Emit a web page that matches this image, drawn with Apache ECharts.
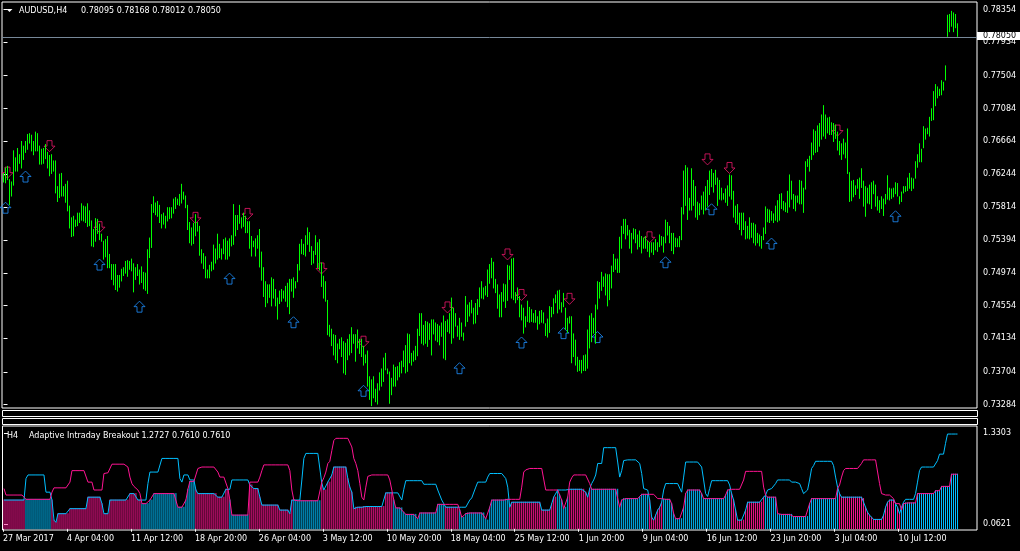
<!DOCTYPE html>
<html><head><meta charset="utf-8">
<script src="https://cdn.jsdelivr.net/npm/echarts@6/dist/echarts.min.js"></script>
<style>html,body{margin:0;padding:0;background:#000;}#c{width:1020px;height:551px;}</style>
</head><body><div id="c"></div>
<script>
// ---- data (AUDUSD H4) ----
const high = [.7625,.7632,.7634,.7617,.7614,.7654,.7645,.7657,.7649,.7666,
.7660,.7666,.7675,.7676,.7674,.7666,.7678,.7676,.7660,.7656,
.7657,.7662,.7652,.7648,.7649,.7641,.7641,.7608,.7624,.7625,
.7608,.7611,.7615,.7583,.7568,.7570,.7565,.7574,.7574,.7586,
.7583,.7582,.7586,.7577,.7564,.7553,.7567,.7566,.7560,.7547,
.7538,.7540,.7544,.7521,.7508,.7508,.7508,.7494,.7494,.7502,
.7504,.7512,.7513,.7512,.7515,.7509,.7504,.7508,.7501,.7505,
.7498,.7497,.7527,.7542,.7585,.7595,.7587,.7589,.7584,.7572,
.7574,.7570,.7581,.7581,.7581,.7592,.7594,.7592,.7598,.7611,
.7601,.7596,.7584,.7562,.7555,.7561,.7572,.7562,.7557,.7527,
.7522,.7518,.7501,.7507,.7511,.7533,.7528,.7547,.7534,.7528,
.7540,.7542,.7538,.7541,.7545,.7585,.7571,.7571,.7584,.7568,
.7574,.7570,.7563,.7563,.7544,.7538,.7541,.7545,.7553,.7524,
.7504,.7486,.7482,.7482,.7491,.7489,.7476,.7465,.7474,.7476,
.7474,.7480,.7484,.7489,.7489,.7491,.7486,.7508,.7534,.7540,
.7534,.7545,.7555,.7549,.7531,.7525,.7545,.7536,.7540,.7510,
.7493,.7486,.7462,.7430,.7425,.7418,.7417,.7406,.7412,.7414,
.7409,.7407,.7412,.7418,.7427,.7418,.7418,.7424,.7412,.7412,
.7403,.7392,.7397,.7364,.7360,.7364,.7348,.7355,.7369,.7374,
.7388,.7394,.7374,.7370,.7362,.7379,.7376,.7377,.7382,.7384,
.7397,.7404,.7419,.7418,.7394,.7397,.7403,.7425,.7445,.7445,
.7430,.7435,.7434,.7432,.7437,.7437,.7433,.7431,.7429,.7433,
.7442,.7435,.7437,.7445,.7465,.7452,.7445,.7429,.7439,.7433,
.7420,.7467,.7456,.7459,.7462,.7452,.7458,.7463,.7478,.7486,
.7478,.7480,.7501,.7508,.7516,.7511,.7489,.7482,.7469,.7472,
.7483,.7482,.7507,.7506,.7515,.7516,.7472,.7478,.7467,.7456,
.7452,.7441,.7461,.7453,.7450,.7445,.7449,.7441,.7448,.7449,
.7446,.7432,.7438,.7454,.7453,.7464,.7469,.7474,.7475,.7459,
.7471,.7452,.7439,.7441,.7441,.7419,.7411,.7389,.7385,.7385,
.7391,.7392,.7424,.7442,.7445,.7439,.7456,.7486,.7485,.7498,
.7492,.7496,.7495,.7495,.7506,.7521,.7515,.7515,.7543,.7557,
.7566,.7566,.7558,.7552,.7548,.7554,.7553,.7546,.7551,.7544,
.7542,.7544,.7538,.7536,.7536,.7536,.7540,.7536,.7546,.7544,
.7543,.7565,.7562,.7557,.7548,.7548,.7542,.7541,.7544,.7581,
.7628,.7635,.7632,.7593,.7631,.7616,.7608,.7588,.7586,.7596,
.7601,.7608,.7616,.7628,.7630,.7625,.7629,.7619,.7616,.7606,
.7599,.7605,.7609,.7623,.7622,.7602,.7583,.7585,.7574,.7574,
.7574,.7563,.7557,.7568,.7561,.7561,.7559,.7548,.7546,.7544,
.7555,.7582,.7579,.7578,.7576,.7573,.7583,.7590,.7598,.7599,
.7589,.7587,.7602,.7623,.7615,.7598,.7596,.7596,.7616,.7615,
.7606,.7640,.7643,.7647,.7664,.7681,.7679,.7686,.7689,.7700,
.7712,.7700,.7696,.7697,.7690,.7689,.7687,.7678,.7666,.7663,
.7669,.7664,.7682,.7626,.7615,.7616,.7609,.7617,.7619,.7631,
.7615,.7608,.7606,.7610,.7613,.7615,.7610,.7595,.7590,.7595,
.7592,.7598,.7622,.7606,.7605,.7606,.7613,.7612,.7595,.7601,
.7608,.7608,.7619,.7625,.7619,.7618,.7640,.7649,.7663,.7656,
.7685,.7682,.7683,.7697,.7708,.7730,.7739,.7736,.7733,.7744,
.7742,.7763,.7828,.7829,.7833,.7831,.7829,.7817];
const low = [.7614,.7613,.7617,.7585,.7596,.7610,.7628,.7628,.7638,.7632,
.7643,.7652,.7656,.7664,.7654,.7649,.7654,.7654,.7637,.7637,
.7638,.7644,.7632,.7622,.7625,.7628,.7600,.7589,.7594,.7596,
.7596,.7588,.7577,.7555,.7544,.7545,.7557,.7558,.7562,.7565,
.7564,.7562,.7557,.7558,.7532,.7531,.7538,.7548,.7540,.7538,
.7515,.7518,.7504,.7504,.7489,.7482,.7476,.7474,.7479,.7487,
.7494,.7497,.7493,.7502,.7500,.7473,.7489,.7494,.7483,.7485,
.7477,.7475,.7471,.7517,.7530,.7575,.7572,.7570,.7562,.7555,
.7560,.7555,.7564,.7567,.7568,.7574,.7580,.7585,.7584,.7587,
.7592,.7581,.7553,.7536,.7533,.7535,.7545,.7551,.7520,.7510,
.7503,.7491,.7491,.7491,.7500,.7502,.7510,.7515,.7517,.7515,
.7522,.7515,.7515,.7519,.7532,.7534,.7545,.7553,.7561,.7555,
.7557,.7549,.7549,.7529,.7519,.7531,.7519,.7529,.7505,.7488,
.7467,.7454,.7459,.7466,.7455,.7465,.7455,.7438,.7458,.7461,
.7465,.7461,.7454,.7445,.7474,.7466,.7478,.7486,.7501,.7522,
.7521,.7519,.7534,.7525,.7508,.7510,.7521,.7504,.7501,.7480,
.7465,.7461,.7418,.7416,.7404,.7392,.7386,.7382,.7400,.7390,
.7369,.7367,.7386,.7392,.7395,.7407,.7384,.7401,.7394,.7390,
.7379,.7382,.7352,.7335,.7327,.7337,.7332,.7329,.7347,.7352,
.7358,.7373,.7368,.7330,.7341,.7352,.7352,.7360,.7364,.7369,
.7377,.7369,.7371,.7382,.7379,.7384,.7386,.7391,.7417,.7407,
.7405,.7407,.7403,.7412,.7392,.7419,.7411,.7409,.7405,.7416,
.7388,.7386,.7422,.7420,.7407,.7414,.7429,.7416,.7412,.7416,
.7411,.7429,.7435,.7442,.7446,.7432,.7433,.7444,.7454,.7465,
.7464,.7469,.7467,.7484,.7491,.7478,.7472,.7452,.7441,.7441,
.7461,.7453,.7462,.7489,.7465,.7463,.7459,.7463,.7441,.7437,
.7420,.7428,.7435,.7434,.7435,.7434,.7434,.7425,.7432,.7434,
.7433,.7417,.7415,.7421,.7441,.7445,.7459,.7446,.7451,.7447,
.7454,.7425,.7421,.7433,.7382,.7390,.7379,.7371,.7372,.7369,
.7372,.7372,.7375,.7401,.7409,.7420,.7407,.7451,.7465,.7475,
.7480,.7469,.7455,.7463,.7478,.7499,.7502,.7498,.7498,.7529,
.7548,.7541,.7546,.7529,.7523,.7541,.7536,.7528,.7531,.7523,
.7529,.7529,.7525,.7518,.7524,.7521,.7527,.7525,.7531,.7533,
.7524,.7536,.7546,.7536,.7526,.7522,.7531,.7531,.7531,.7540,
.7573,.7584,.7566,.7578,.7578,.7584,.7569,.7566,.7572,.7579,
.7573,.7578,.7583,.7598,.7608,.7601,.7611,.7584,.7592,.7591,
.7592,.7588,.7584,.7596,.7592,.7569,.7562,.7560,.7553,.7546,
.7553,.7541,.7542,.7541,.7543,.7536,.7533,.7536,.7532,.7529,
.7540,.7548,.7563,.7562,.7565,.7562,.7565,.7563,.7565,.7580,
.7578,.7576,.7575,.7582,.7592,.7580,.7577,.7588,.7586,.7586,
.7575,.7605,.7634,.7628,.7643,.7649,.7652,.7653,.7660,.7669,
.7673,.7670,.7677,.7675,.7675,.7666,.7670,.7655,.7649,.7643,
.7650,.7645,.7625,.7589,.7590,.7595,.7598,.7606,.7593,.7607,
.7583,.7570,.7587,.7586,.7580,.7599,.7583,.7578,.7575,.7580,
.7571,.7586,.7592,.7591,.7593,.7595,.7599,.7596,.7586,.7589,
.7600,.7602,.7603,.7606,.7603,.7606,.7619,.7633,.7640,.7640,
.7658,.7669,.7676,.7673,.7693,.7694,.7712,.7722,.7725,.7726,
.7732,.7745,.7801,.7807,.7814,.7807,.7812,.7801];
const downArrows = [[2,.7626],[23,.7660],[48,.7556],[96,.7568],[122,.7573],[159,.7503],[180,.7409],[222,.7453],[252,.7521],[259,.7469],[283,.7464],[323,.7543],[352,.7643],[363,.7632],[417,.7680]];
const upArrows = [[1,.7581],[11,.7621],[48,.7508],[68,.7454],[113,.7490],[145,.7434],[180,.7346],[228,.7375],[259,.7408],[280,.7420],[297,.7415],[331,.7511],[354,.7579],[384,.7535],[446,.7570]];
const priceTicks = [0.78354,0.77934,0.77504,0.77084,0.76664,0.76244,0.75814,0.75394,0.74974,0.74554,0.74134,0.73704,0.73284];
const indTicks = [1.3303, 0.0621];
const timeLabels = ['27 Mar 2017','4 Apr 04:00','11 Apr 12:00','18 Apr 20:00','26 Apr 04:00','3 May 12:00','10 May 20:00','18 May 04:00','25 May 12:00','1 Jun 20:00','9 Jun 04:00','16 Jun 12:00','23 Jun 20:00','3 Jul 04:00','10 Jul 12:00'];
const lastOHLC = [0.78095, 0.78168, 0.78012, 0.78050];
const indValues = [1.2727, 0.7610, 0.7610];
// Adaptive Intraday Breakout: blue line, pink line, histogram (+ colour per bar)
const blueLine = [.40,.40,.40,.40,.40,.40,.40,.40,.40,.40,
.40,.70,.75,.75,.75,.75,.75,.75,.75,.75,
.75,.51,.51,.51,.40,.12,.09,.21,.21,.21,
.21,.21,.21,.28,.28,.28,.28,.28,.28,.28,
.28,.28,.44,.44,.44,.44,.44,.44,.44,.35,
.21,.21,.21,.40,.40,.40,.40,.40,.40,.40,
.40,.40,.40,.49,.49,.49,.49,.40,.40,.40,
.40,.40,.63,.79,.79,.79,.79,.79,.79,.98,
.98,.98,.98,.98,.98,.98,.98,.98,.70,.65,
.75,.75,.75,.68,.68,.68,.54,.49,.49,.49,
.49,.49,.49,.49,.49,.49,.49,.44,.44,.44,
.44,.55,.55,.55,.68,.68,.68,.68,.68,.68,
.68,.68,.68,.61,.61,.56,.56,.56,.44,.33,
.33,.33,.33,.33,.33,.33,.33,.33,.26,.26,
.26,.26,.26,.21,.40,.40,.40,.40,.40,.68,
.98,1.05,1.05,1.05,1.05,1.05,1.05,1.05,1.05,.63,
.54,.54,.65,.65,.75,.86,.86,.86,.86,.86,
.86,.86,.70,.58,.51,.28,.30,.30,.30,.30,
.31,.31,.31,.31,.31,.31,.31,.31,.31,.31,
.31,.50,.50,.50,.50,.50,.50,.50,.50,.40,
.55,.67,.67,.67,.67,.67,.67,.67,.67,.67,
.62,.62,.62,.62,.62,.62,.62,.54,.47,.40,
.35,.30,.30,.30,.30,.30,.30,.30,.30,.30,
.30,.30,.30,.40,.43,.43,.58,.65,.65,.65,
.65,.65,.72,.77,.77,.77,.77,.77,.77,.77,
.77,.70,.58,.30,.37,.37,.37,.37,.37,.37,
.37,.37,.37,.37,.37,.37,.37,.37,.37,.26,
.26,.26,.26,.26,.35,.44,.44,.54,.54,.54,
.54,.54,.55,.55,.55,.55,.55,.55,.55,.55,
.55,.51,.44,.56,.63,.68,.75,.91,.91,.91,
1.13,1.13,1.13,1.13,1.13,1.13,1.13,.93,.72,.81,
.95,.96,.96,.96,.96,.96,.96,.96,.91,.77,
.56,.54,.54,.40,.16,.12,.19,.26,.30,.37,
.54,.63,.63,.63,.63,.63,.63,.63,.63,.51,
.72,.93,.93,.93,.93,.93,.93,.93,.93,.86,
.68,.49,.45,.56,.67,.67,.67,.67,.67,.67,
.67,.67,.67,.61,.49,.40,.26,.12,.12,.12,
.12,.26,.37,.37,.37,.37,.37,.37,.37,.37,
.44,.47,.54,.56,.56,.58,.63,.68,.68,.68,
.68,.68,.68,.68,.65,.65,.65,.65,.63,.56,
.49,.47,.54,.68,.84,.88,.94,.94,.94,.94,
.94,.94,.94,.94,.94,.88,.72,.58,.49,.44,
.44,.44,.44,.44,.44,.44,.44,.44,.44,.44,
.42,.30,.23,.19,.16,.13,.13,.13,.13,.13,
.19,.30,.37,.40,.40,.40,.40,.30,.21,.30,
.37,.41,.41,.41,.41,.41,.49,.65,.81,.86,
.86,.86,.86,.86,.86,.86,.86,.95,1.04,1.04,
1.04,1.19,1.32,1.32,1.32,1.32,1.32,1.32];
const pinkLine = [.56,.47,.47,.47,.47,.47,.47,.47,.47,.47,
.47,.41,.41,.41,.41,.41,.41,.41,.41,.41,
.41,.41,.41,.41,.51,.57,.57,.57,.57,.57,
.57,.57,.57,.65,.81,.81,.81,.81,.81,.81,
.81,.81,.65,.65,.65,.54,.54,.54,.54,.54,
.77,.78,.78,.78,.90,.90,.90,.90,.90,.90,
.90,.90,.86,.72,.63,.59,.59,.54,.49,.35,
.35,.35,.35,.40,.40,.49,.49,.49,.49,.49,
.49,.49,.49,.49,.49,.49,.49,.30,.30,.30,
.30,.40,.55,.66,.66,.66,.75,.84,.86,.86,
.86,.86,.86,.86,.86,.86,.86,.79,.72,.72,
.72,.72,.56,.40,.19,.19,.19,.19,.19,.19,
.19,.19,.19,.65,.65,.65,.65,.65,.72,.81,
.89,.89,.89,.89,.89,.89,.89,.89,.89,.89,
.89,.89,.89,.81,.54,.40,.39,.39,.39,.39,
.39,.39,.39,.39,.39,.39,.39,.39,.39,.65,
.71,.79,.91,.94,1.09,1.23,1.26,1.26,1.26,1.26,
1.26,1.26,1.26,1.26,1.14,.98,.91,.81,.63,.44,
.40,.58,.73,.75,.75,.75,.75,.75,.75,.75,
.75,.75,.75,.68,.54,.40,.29,.29,.29,.29,
.23,.20,.20,.20,.20,.20,.20,.14,.22,.22,
.22,.22,.22,.22,.22,.22,.22,.34,.34,.34,
.34,.34,.34,.34,.34,.34,.34,.34,.26,.16,
.16,.21,.22,.22,.22,.22,.22,.22,.22,.22,
.22,.14,.12,.30,.40,.40,.40,.40,.40,.40,
.40,.41,.41,.41,.41,.41,.41,.41,.41,.58,
.79,.82,.84,.84,.84,.84,.84,.84,.84,.84,
.84,.54,.54,.54,.54,.54,.54,.54,.47,.40,
.28,.30,.44,.65,.71,.75,.75,.75,.75,.75,
.75,.75,.75,.63,.55,.55,.55,.55,.55,.55,
.55,.55,.55,.55,.55,.55,.55,.55,.30,.40,
.42,.42,.42,.42,.42,.42,.42,.42,.44,.48,
.48,.48,.48,.48,.48,.48,.48,.42,.42,.42,
.41,.41,.41,.41,.35,.21,.14,.14,.14,.14,
.30,.49,.54,.54,.54,.54,.54,.54,.54,.49,
.42,.42,.42,.42,.42,.42,.42,.42,.42,.42,
.42,.47,.54,.55,.55,.55,.55,.55,.55,.55,
.68,.80,.80,.80,.80,.80,.80,.80,.80,.80,
.58,.47,.44,.44,.44,.44,.44,.21,.20,.20,
.20,.20,.20,.20,.20,.17,.17,.17,.17,.17,
.17,.17,.17,.35,.42,.42,.42,.42,.42,.42,
.42,.42,.42,.42,.42,.42,.42,.56,.61,.72,
.81,.84,.84,.84,.84,.84,.84,.84,.84,.91,
.96,.96,.96,.96,.96,.96,.96,.96,.63,.49,
.47,.47,.47,.47,.47,.42,.35,.35,.35,.26,
.35,.36,.36,.36,.36,.36,.36,.49,.49,.49,
.49,.49,.49,.49,.49,.49,.53,.53,.53,.59,
.59,.59,.59,.59,.76,.76,.76,.76];
const histVals = [.40,.40,.40,.40,.40,.40,.40,.40,.40,.40,
.40,.41,.41,.41,.41,.41,.41,.41,.41,.41,
.41,.41,.41,.41,.40,.12,.09,.21,.21,.21,
.21,.21,.21,.28,.28,.28,.28,.28,.28,.28,
.28,.28,.44,.44,.44,.44,.44,.44,.44,.35,
.21,.21,.21,.40,.40,.40,.40,.40,.40,.40,
.40,.40,.40,.49,.49,.49,.49,.40,.40,.35,
.35,.35,.35,.40,.40,.49,.49,.49,.49,.49,
.49,.49,.49,.49,.49,.49,.49,.30,.30,.30,
.30,.40,.55,.66,.66,.66,.54,.49,.49,.49,
.49,.49,.49,.49,.49,.49,.49,.44,.44,.44,
.44,.55,.55,.40,.19,.19,.19,.19,.19,.19,
.19,.19,.19,.61,.61,.56,.56,.56,.44,.33,
.33,.33,.33,.33,.33,.33,.33,.33,.26,.26,
.26,.26,.26,.21,.40,.40,.39,.39,.39,.39,
.39,.39,.39,.39,.39,.39,.39,.39,.39,.63,
.54,.54,.65,.65,.75,.86,.86,.86,.86,.86,
.86,.86,.70,.58,.51,.28,.30,.30,.30,.30,
.31,.31,.31,.31,.31,.31,.31,.31,.31,.31,
.31,.50,.50,.50,.50,.40,.29,.29,.29,.29,
.23,.20,.20,.20,.20,.20,.20,.14,.22,.22,
.22,.22,.22,.22,.22,.22,.22,.34,.34,.34,
.34,.30,.30,.30,.30,.30,.30,.30,.26,.16,
.16,.21,.22,.22,.22,.22,.22,.22,.22,.22,
.22,.14,.12,.30,.40,.40,.40,.40,.40,.40,
.40,.41,.41,.30,.37,.37,.37,.37,.37,.37,
.37,.37,.37,.37,.37,.37,.37,.37,.37,.26,
.26,.26,.26,.26,.35,.44,.44,.54,.47,.40,
.28,.30,.44,.55,.55,.55,.55,.55,.55,.55,
.55,.51,.44,.56,.55,.55,.55,.55,.55,.55,
.55,.55,.55,.55,.55,.55,.55,.55,.30,.40,
.42,.42,.42,.42,.42,.42,.42,.42,.44,.48,
.48,.48,.48,.40,.16,.12,.19,.26,.30,.37,
.41,.41,.41,.41,.35,.21,.14,.14,.14,.14,
.30,.49,.54,.54,.54,.54,.54,.54,.54,.49,
.42,.42,.42,.42,.42,.42,.42,.42,.42,.42,
.42,.47,.54,.55,.49,.40,.26,.12,.12,.12,
.12,.26,.37,.37,.37,.37,.37,.37,.37,.37,
.44,.47,.44,.44,.44,.44,.44,.21,.20,.20,
.20,.20,.20,.20,.20,.17,.17,.17,.17,.17,
.17,.17,.17,.35,.42,.42,.42,.42,.42,.42,
.42,.42,.42,.42,.42,.42,.42,.56,.49,.44,
.44,.44,.44,.44,.44,.44,.44,.44,.44,.44,
.42,.30,.23,.19,.16,.13,.13,.13,.13,.13,
.19,.30,.37,.40,.40,.40,.35,.30,.21,.26,
.35,.36,.36,.36,.36,.36,.36,.49,.49,.49,
.49,.49,.49,.49,.49,.49,.53,.53,.53,.59,
.59,.59,.59,.59,.76,.76,.76,.76];
const histCols = ['pppppppppp','pbbbbbbbbb','bbbbpppppp','pppppppppp','pppppppppp',
'pppppppppp','pppppppppb','bbbbbbbbbb','bbbbbbbbbb','bbbbbbpppp',
'pppppppppp','pppbbbbbbb','bbbppppppp','pppppppppp','pppppbbbbb',
'bbbbbbbbbp','pppppppppp','pppppppppp','pppppppppp','pppppbbbbb',
'bbbbbbbbbb','bbbbbbbbbb','bpppppppbb','bbbbbbbbbb','bbbbbbbbbb',
'bbbppppppp','pppppppppp','pppppppbbb','bbbppppppp','ppppbbbbbb',
'bbbbbbbbbb','bbbbbbbbbb','bbbppppppp','bbbbbbbbbb','bbbbbbbbbb',
'bbbbbbbbbb','bbbbpppppp','pppppppppp','pbbbbbbbbb','bbbbbbbbbb',
'bbbbbbbbbb','bbbbbbbbpp','pppppppppp','pppppppppp','ppppppbppb',
'bbbbbbbbbb','bbbbbbbbbb','bbbbbbbb'].join('');

// ---- chart ----
const FONT = 'DejaVu Sans';
const BAR = '#00ff00', UPC = '#1e90ff', DNC = '#e8186a', BLUE = '#00bfff', PINK = '#ff1493';
const chart = echarts.init(document.getElementById('c'), null, {renderer:'canvas'});
const xBase = {type:'value', min:-0.75, max:486.75, splitLine:{show:false}};
const upPath = 'path://M5.5,0L11,5.5L8,5.5L8,11L3,11L3,5.5L0,5.5Z';
const dnPath = 'path://M3,0L8,0L8,5.5L11,5.5L5.5,11L0,5.5L3,5.5Z';
const tickIdx = timeLabels.map((t,k)=>k*32-0.5);
const vLine = (color) => (params, api) => {
  const i = api.value(0);
  const a = api.coord([i, api.value(1)]);
  const b = api.coord([i, api.value(2)]);
  const c = typeof color === 'function' ? color(api) : color;
  return {type:'line', shape:{x1:a[0], y1:a[1]+0.5, x2:b[0], y2:b[1]-0.5}, style:{stroke:c, lineWidth:1}};
};
const option = {
  backgroundColor:'#000', animation:false,
  grid:[
    {left:2, top:2, width:975, height:406, show:true, borderColor:'#fff', borderWidth:1, backgroundColor:'transparent'},
    {left:2, top:426, width:975, height:104, show:true, borderColor:'#fff', borderWidth:1, backgroundColor:'transparent'}
  ],
  xAxis:[
    Object.assign({gridIndex:0, show:false}, xBase),
    Object.assign({gridIndex:1, axisLine:{show:false},
      axisTick:{show:true, customValues:tickIdx, length:3, lineStyle:{color:'#fff'}},
      axisLabel:{customValues:tickIdx, formatter:v=>timeLabels[Math.round((v+0.5)/32)], align:'left', color:'#fff', fontFamily:FONT, fontSize:8, margin:5}}, xBase)
  ],
  yAxis:[
    {gridIndex:0, type:'value', position:'right', min:0.732391, max:0.784503, axisLine:{show:false}, splitLine:{show:false},
      axisTick:{show:true, customValues:priceTicks, length:4, lineStyle:{color:'#fff'}},
      axisLabel:{customValues:priceTicks, formatter:v=>v.toFixed(5), color:'#fff', fontFamily:FONT, fontSize:8, margin:6}},
    {gridIndex:1, type:'value', position:'right', min:-0.0173, max:1.4320, axisLine:{show:false}, splitLine:{show:false},
      axisTick:{show:true, customValues:indTicks, length:4, lineStyle:{color:'#fff'}},
      axisLabel:{customValues:indTicks, formatter:v=>v.toFixed(4), color:'#fff', fontFamily:FONT, fontSize:8, margin:6}}
  ],
  graphic:[
    {type:'polygon', shape:{points:[[6.5,9],[12.5,9],[9.5,12]]}, style:{fill:'#fff'}},
    {type:'text', x:19, y:10.5, style:{text:'AUDUSD,H4', fill:'#fff', font:'8px "DejaVu Sans"', verticalAlign:'middle'}},
    {type:'text', x:81, y:10.5, style:{text:lastOHLC.map(v=>v.toFixed(5)).join(' '), fill:'#fff', font:'8px "DejaVu Sans"', verticalAlign:'middle'}},
    {type:'rect', shape:{x:2.5, y:410.5, width:975, height:6}, style:{fill:'none', stroke:'#fff', lineWidth:1}},
    {type:'rect', shape:{x:2.5, y:418.5, width:975, height:6}, style:{fill:'none', stroke:'#fff', lineWidth:1}},
    {type:'text', x:7, y:435.5, style:{text:'H4', fill:'#fff', font:'8px "DejaVu Sans"', verticalAlign:'middle'}},
    {type:'text', x:29, y:435.5, style:{text:'Adaptive Intraday Breakout ' + indValues[0].toFixed(4)+' '+indValues[1].toFixed(4)+' '+indValues[2].toFixed(4), fill:'#fff', font:'8px "DejaVu Sans"', verticalAlign:'middle'}}
  ],
  series:[
    {type:'scatter', xAxisIndex:0, yAxisIndex:0, data:upArrows, symbol:upPath, symbolSize:[11,11], z:1, silent:true,
      itemStyle:{color:'rgba(0,0,0,0)', borderColor:UPC, borderWidth:1}},
    {type:'scatter', xAxisIndex:0, yAxisIndex:0, data:downArrows, symbol:dnPath, symbolSize:[11,11], z:1, silent:true,
      itemStyle:{color:'rgba(0,0,0,0)', borderColor:DNC, borderWidth:1}},
    {type:'custom', xAxisIndex:0, yAxisIndex:0, z:2, silent:true,
      data: high.map((h,i)=>[i, low[i], h]),
      encode:{x:0, y:[1,2]},
      renderItem: vLine(BAR)},
    {type:'line', xAxisIndex:0, yAxisIndex:0, data:[], z:3,
      markLine:{silent:true, symbol:['none','none'], animation:false,
        lineStyle:{color:'#778899', width:1, type:'solid'},
        label:{show:true, position:'end', formatter:lastOHLC[3].toFixed(5), color:'#000', backgroundColor:'#fff', fontFamily:FONT, fontSize:8, lineHeight:8, height:8, padding:[0,4,0,6], distance:0, offset:[0,-1]},
        data:[{yAxis:lastOHLC[3]}]}},
    {type:'custom', xAxisIndex:1, yAxisIndex:1, z:1, silent:true,
      data: histVals.map((v,i)=>[i, 0, v, histCols[i]==='p'?1:0]),
      encode:{x:0, y:[1,2]},
      renderItem: vLine(api => api.value(3) ? PINK : BLUE)},
    {type:'line', xAxisIndex:1, yAxisIndex:1, data: blueLine.map((v,i)=>[i,v]), showSymbol:false, z:2, silent:true, lineStyle:{color:BLUE, width:1}},
    {type:'line', xAxisIndex:1, yAxisIndex:1, data: pinkLine.map((v,i)=>[i,v]), showSymbol:false, z:3, silent:true, lineStyle:{color:PINK, width:1}}
  ]
};
chart.setOption(option);
</script></body></html>
